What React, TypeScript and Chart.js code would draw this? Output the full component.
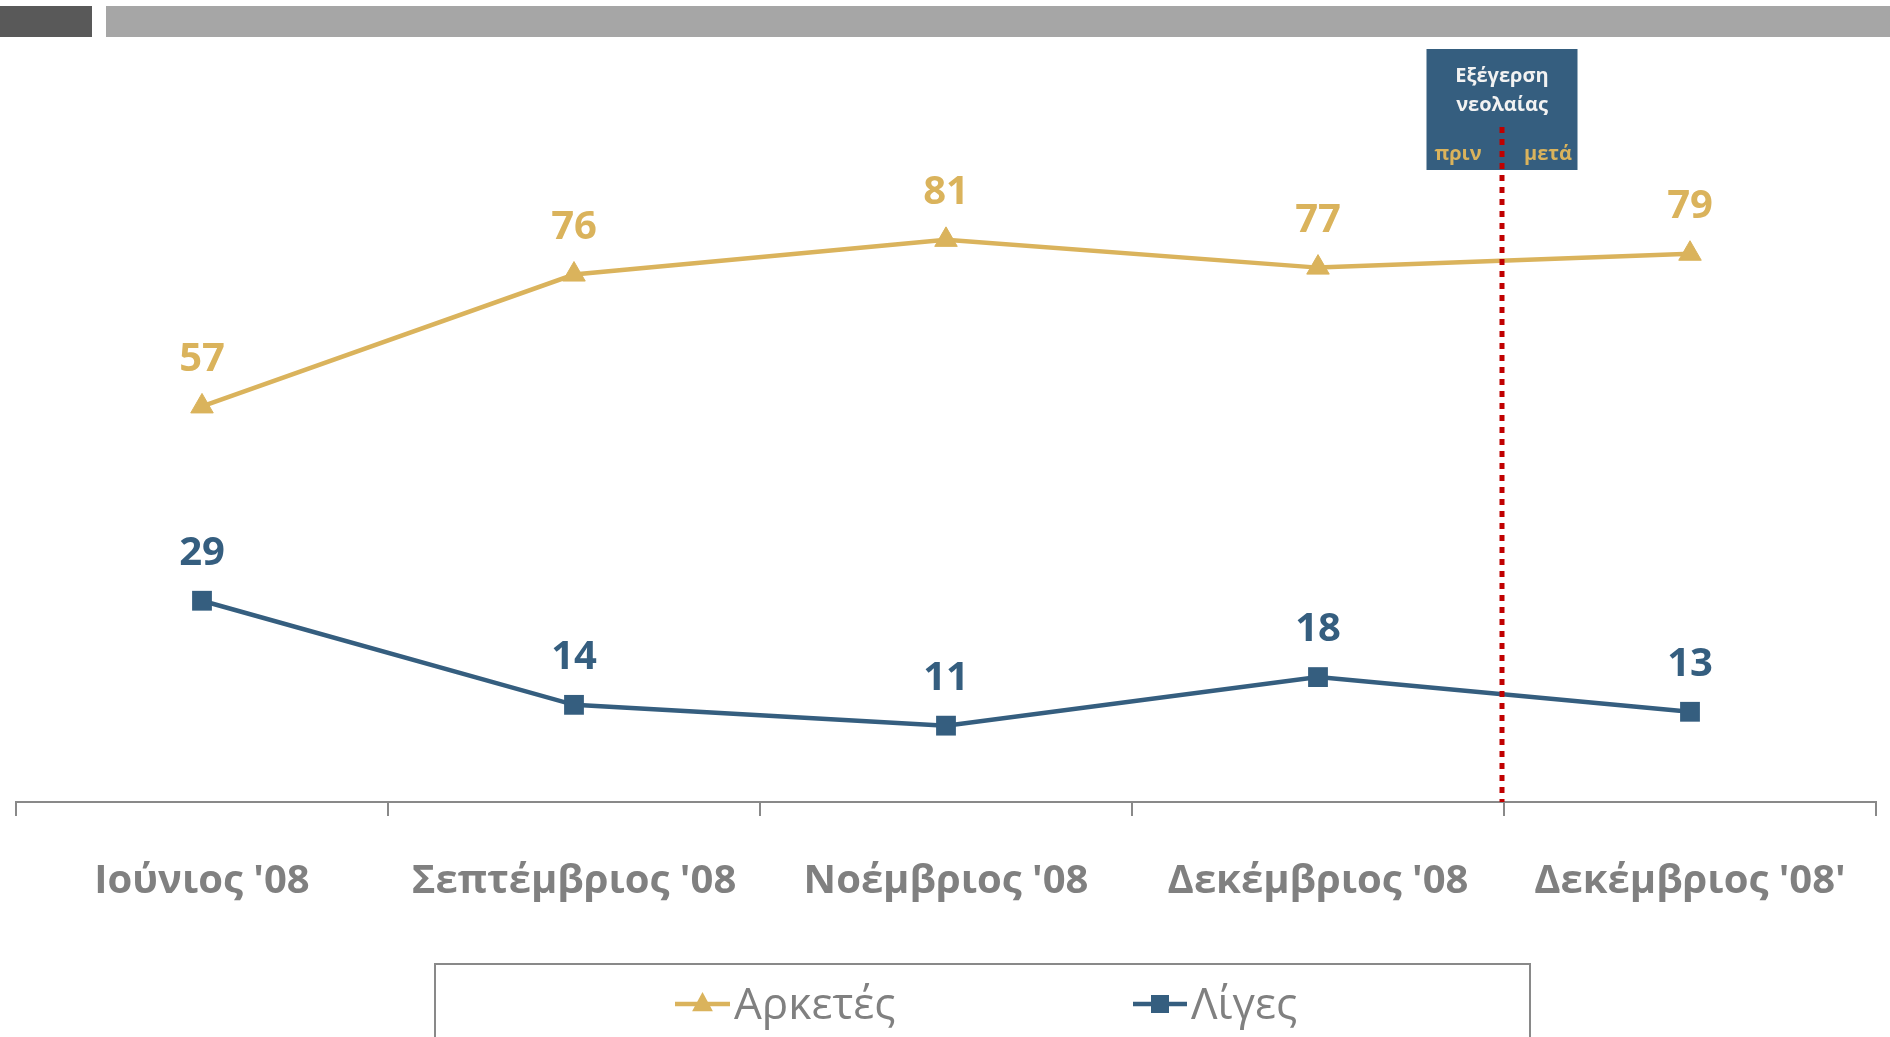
import React, { useEffect, useRef } from 'react';
import { Chart, registerables } from 'chart.js';

Chart.register(...registerables);

const categories = ["Ιούνιος '08", "Σεπτέμβριος '08", "Νοέμβριος '08", "Δεκέμβριος '08", "Δεκέμβριος '08'"];
const arketesValues = [57, 76, 81, 77, 79];
const ligesValues = [29, 14, 11, 18, 13];
const seriesNames = ['Αρκετές', 'Λίγες'];
const eventTitle = ['Εξέγερση', 'νεολαίας'];
const beforeLabel = 'πριν';
const afterLabel = 'μετά';
const eventAfterIndex = 3;

const GOLD = '#DAB35C';
const BLUE = '#355E7F';
const GRAY = '#808080';
const AXIS = '#898989';
const RED = '#C00000';
const FONT = "'Open Sans', sans-serif";

const decorPlugin = {
  id: 'decor',
  beforeDraw(chart: any) {
    const ctx = chart.ctx;
    ctx.save();
    ctx.fillStyle = '#ffffff';
    ctx.fillRect(0, 0, chart.width, chart.height);
    ctx.fillStyle = '#595959';
    ctx.fillRect(0, 6, 92, 31);
    ctx.fillStyle = '#A6A6A6';
    ctx.fillRect(106, 6, chart.width - 106, 31);
    ctx.restore();
  },
  afterDatasetsDraw(chart: any) {
    const ctx = chart.ctx;
    const xs = chart.scales.x;
    const area = chart.chartArea;
    ctx.save();
    // value labels
    chart.data.datasets.forEach((ds: any, di: number) => {
      const meta = chart.getDatasetMeta(di);
      meta.data.forEach((pt: any, i: number) => {
        ctx.fillStyle = ds.borderColor;
        ctx.font = `bold 40px ${FONT}`;
        ctx.textAlign = 'center';
        ctx.textBaseline = 'middle';
        ctx.fillText(String(ds.data[i]), pt.x, pt.y - 47);
      });
    });
    // event box
    const lx = Math.round((xs.getPixelForValue(eventAfterIndex) + xs.getPixelForValue(eventAfterIndex + 1)) / 2) - 2;
    const bw = 151, bh = 121, by = 49;
    ctx.fillStyle = BLUE;
    ctx.fillRect(lx - bw / 2, by, bw, bh);
    ctx.fillStyle = '#F2F2F2';
    ctx.font = `bold 20px ${FONT}`;
    ctx.textAlign = 'center';
    ctx.textBaseline = 'middle';
    ctx.fillText(eventTitle[0], lx, by + 27);
    ctx.fillText(eventTitle[1], lx, by + 56);
    ctx.fillStyle = GOLD;
    ctx.fillText(beforeLabel, lx - 44, by + 105);
    ctx.fillText(afterLabel, lx + 46, by + 105);
    // red dotted line
    ctx.strokeStyle = RED;
    ctx.lineWidth = 5;
    ctx.setLineDash([6, 6]);
    ctx.beginPath();
    ctx.moveTo(lx, 127);
    ctx.lineTo(lx, area.bottom);
    ctx.stroke();
    ctx.restore();
  },
  afterDraw(chart: any) {
    const ctx = chart.ctx;
    ctx.save();
    // legend box
    ctx.strokeStyle = AXIS;
    ctx.lineWidth = 2;
    ctx.strokeRect(435, 964, 1095, 120);
    const items = [
      { x0: 675, x1: 730, tx: 734, ds: chart.data.datasets[0], shape: 'tri' },
      { x0: 1133, x1: 1187, tx: 1191, ds: chart.data.datasets[1], shape: 'rect' },
    ];
    const ly = 1004;
    items.forEach((it) => {
      ctx.strokeStyle = it.ds.borderColor;
      ctx.fillStyle = it.ds.borderColor;
      ctx.lineWidth = 4.5;
      ctx.setLineDash([]);
      ctx.beginPath();
      ctx.moveTo(it.x0, ly);
      ctx.lineTo(it.x1, ly);
      ctx.stroke();
      const cx = (it.x0 + it.x1) / 2;
      ctx.beginPath();
      if (it.shape === 'tri') {
        const r = 12;
        ctx.moveTo(cx, ly - r);
        ctx.lineTo(cx + r * 0.866, ly + r * 0.6);
        ctx.lineTo(cx - r * 0.866, ly + r * 0.6);
        ctx.closePath();
      } else {
        ctx.rect(cx - 9, ly - 9, 18, 18);
      }
      ctx.fill();
      ctx.fillStyle = GRAY;
      ctx.font = `44px ${FONT}`;
      ctx.textAlign = 'left';
      ctx.textBaseline = 'middle';
      ctx.fillText(it.ds.label, it.tx, ly + 2);
    });
    ctx.restore();
  },
};

export default function App() {
  const ref = useRef<HTMLCanvasElement | null>(null);
  useEffect(() => {
    if (!ref.current) return;
    const chart = new Chart(ref.current, {
      type: 'line',
      data: {
        labels: categories,
        datasets: [
          {
            label: seriesNames[0],
            data: arketesValues,
            borderColor: GOLD,
            backgroundColor: GOLD,
            borderWidth: 4.5,
            pointStyle: 'triangle',
            pointRadius: 13,
            pointBorderWidth: 1,
            tension: 0,
          },
          {
            label: seriesNames[1],
            data: ligesValues,
            borderColor: BLUE,
            backgroundColor: BLUE,
            borderWidth: 4.5,
            pointStyle: 'rect',
            pointRadius: 14,
            pointBorderWidth: 0,
            tension: 0,
          },
        ],
      },
      options: {
        responsive: false,
        animation: false,
        layout: { padding: { left: 16, right: 13, top: 108, bottom: 0 } },
        plugins: { legend: { display: false }, tooltip: { enabled: false } },
        scales: {
          x: {
            offset: true,
            grid: {
              display: true,
              drawOnChartArea: false,
              drawTicks: true,
              tickLength: 14,
              offset: true,
              color: AXIS,
              lineWidth: 2,
            },
            border: { display: true, color: AXIS, width: 2 },
            ticks: {
              color: GRAY,
              font: { family: FONT, size: 40, weight: 'bold' },
              padding: 42,
              maxRotation: 0,
              autoSkip: false,
            },
            afterFit(scale: any) {
              scale.height = 235;
            },
          },
          y: { display: false, min: 0, max: 100 },
        },
      },
      plugins: [decorPlugin],
    } as any);
    return () => chart.destroy();
  }, []);
  return (
    <div style={{ position: 'absolute', left: 0, top: 0, width: 1890, height: 1037, overflow: 'hidden', background: '#fff' }}>
      <canvas ref={ref} width={1890} height={1037} style={{ display: 'block' }} />
    </div>
  );
}
